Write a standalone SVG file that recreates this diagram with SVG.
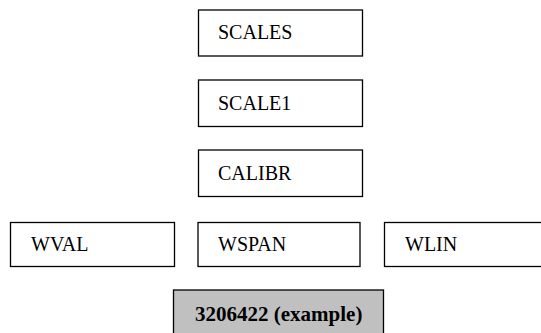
<svg xmlns="http://www.w3.org/2000/svg" width="541" height="333" viewBox="0 0 541 333">
<style>
.box{fill:#fff;stroke:#000;stroke-width:1.3}
.gray{fill:#c0c0c0;stroke:#000;stroke-width:1.3}
.t{font-family:"Liberation Serif","Times New Roman",serif;font-size:20px;fill:#000}
.b{font-weight:bold;font-size:21px}
</style>
<rect width="541" height="333" fill="#fff"/>
<g id="connectors"></g>
<g id="scales"><rect class="box" x="198.5" y="10" width="164" height="46"/><text class="t" x="218" y="39">SCALES</text></g>
<g id="scale1"><rect class="box" x="198.5" y="80" width="164" height="46.5"/><text class="t" x="218" y="110">SCALE1</text></g>
<g id="calibr"><rect class="box" x="198.5" y="150" width="164" height="46.5"/><text class="t" x="218" y="180">CALIBR</text></g>
<g id="wval"><rect class="box" x="10.5" y="222.5" width="164" height="44"/><text class="t" x="31" y="251">WVAL</text></g>
<g id="wspan"><rect class="box" x="198" y="222.5" width="162" height="44"/><text class="t" x="218" y="251">WSPAN</text></g>
<g id="wlin"><rect class="box" x="384.5" y="222.5" width="164" height="44"/><text class="t" x="405" y="251">WLIN</text></g>
<g id="example"><rect class="gray" x="173.5" y="290" width="210" height="50"/><text class="t b" x="195" y="321">3206422 (example)</text></g>
</svg>
